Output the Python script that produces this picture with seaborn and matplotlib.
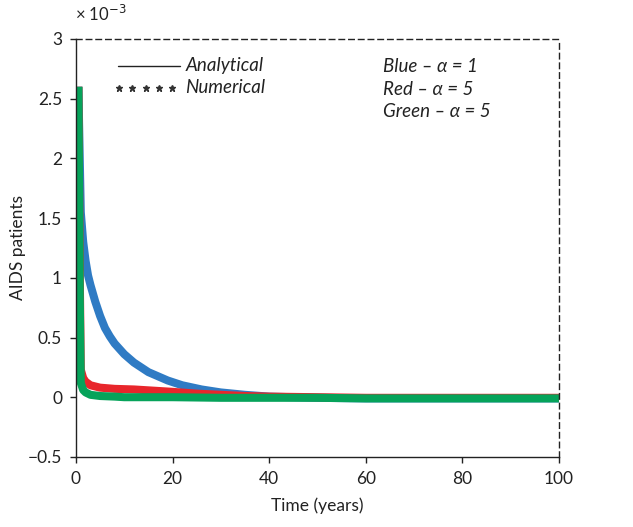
import matplotlib
matplotlib.use("Agg")
import matplotlib.pyplot as plt
import seaborn as sns
import pandas as pd

# ---- data (values in units of 1e-3) ----
t_blue = [0.5, 1, 1.5, 2, 2.5, 3, 4, 5, 6, 7, 8, 10, 12, 15, 19, 22, 26, 30, 35, 40, 50, 60, 70, 80, 90, 100]
blue = [2.6, 1.55, 1.3, 1.14, 1.02, 0.94, 0.8, 0.68, 0.58, 0.51, 0.45, 0.36, 0.29, 0.21, 0.14, 0.1, 0.065, 0.04, 0.02, 0.005,
        -0.005, -0.01, -0.01, -0.01, -0.01, -0.01]
t_red = [0.5, 0.8, 1.0, 1.5, 2, 3, 5, 8, 12, 16, 20, 25, 30, 35, 40, 50, 60, 70, 80, 90, 100]
red = [2.6, 1.0, 0.23, 0.16, 0.13, 0.1, 0.08, 0.07, 0.065, 0.055, 0.045, 0.03, 0.02, 0.01, 0.005, 0.0, -0.005, -0.005, -0.005, -0.005, -0.005]
t_green = [0.5, 0.8, 1.0, 1.5, 2, 3, 5, 8, 10, 20, 30, 40, 50, 60, 70, 80, 90, 100]
green = [2.6, 0.8, 0.12, 0.06, 0.04, 0.02, 0.01, 0.005, 0.0, 0.0, -0.005, -0.005, -0.005, -0.01, -0.01, -0.01, -0.01, -0.01]

x_ticks = [0, 20, 40, 60, 80, 100]
y_ticks = [-0.5, 0, 0.5, 1, 1.5, 2, 2.5, 3]
y_tick_labels = ["\u22120.5", "0", "0.5", "1", "1.5", "2", "2.5", "3"]

sns.set_theme(style="white")
plt.rcParams['font.family'] = ['Lato', 'DejaVu Sans']

fig = plt.figure(figsize=(6.33, 5.27), dpi=100)
ax = fig.add_axes([0.12, 0.133, 0.763, 0.793])

colors = {"blue": "#2f7bc4", "red": "#e8262b", "green": "#06a35a"}
for t, v, c in [(t_blue, blue, "blue"), (t_red, red, "red"), (t_green, green, "green")]:
    df = pd.DataFrame({"t": t, "v": v})
    sns.lineplot(data=df, x="t", y="v", ax=ax, color=colors[c], lw=5.8, solid_capstyle="butt", solid_joinstyle="round")

ax.set_xlim(0, 100)
ax.set_ylim(-0.5, 3)
fs = 12.5
ax.set_xticks(x_ticks)
ax.set_xticklabels([str(x) for x in x_ticks], fontsize=fs, color="#222222")
ax.set_yticks(y_ticks)
ax.set_yticklabels(y_tick_labels, fontsize=fs, color="#222222")
ax.tick_params(axis="both", direction="out", length=4, width=1, color="#222222", bottom=True, left=True, pad=6)
ax.set_xlabel("Time (years)", fontsize=fs, color="#222222", labelpad=8)
ax.set_ylabel("AIDS patients", fontsize=fs, color="#222222", labelpad=1)

for s in ["left", "bottom"]:
    ax.spines[s].set_color("#222222")
    ax.spines[s].set_linewidth(1.0)
for s in ["top", "right"]:
    ax.spines[s].set_color("#222222")
    ax.spines[s].set_linewidth(1.0)
    ax.spines[s].set_linestyle((0, (4, 3)))

ax.text(-0.002, 1.035, "\u00d7 10$^{-3}$", transform=ax.transAxes, fontsize=12, color="#222222", ha="left", va="bottom")

# legend-like annotations
afs = 13.5
ax.plot([0.088, 0.216], [0.936, 0.936], transform=ax.transAxes, color="#222222", lw=1)
ax.text(0.226, 0.936, "Analytical", transform=ax.transAxes, fontsize=afs, style="italic", va="center", color="#222222")
ax.plot([0.09, 0.117, 0.144, 0.171, 0.198], [0.883] * 5, transform=ax.transAxes, ls="none",
        marker="*", markersize=4.5, color="#333333")
ax.text(0.226, 0.883, "Numerical", transform=ax.transAxes, fontsize=afs, style="italic", va="center", color="#222222")

ax.text(0.635, 0.934, "Blue \u2013 \u03b1 = 1", transform=ax.transAxes, fontsize=afs, style="italic", va="center", color="#222222")
ax.text(0.635, 0.879, "Red \u2013 \u03b1 = 5", transform=ax.transAxes, fontsize=afs, style="italic", va="center", color="#222222")
ax.text(0.635, 0.827, "Green \u2013 \u03b1 = 5", transform=ax.transAxes, fontsize=afs, style="italic", va="center", color="#222222")

fig.savefig("out.png", dpi=100)
